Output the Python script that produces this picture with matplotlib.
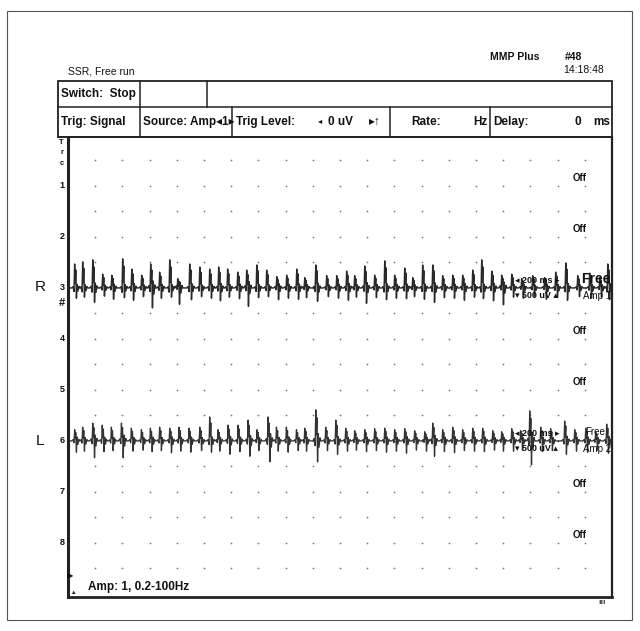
# Recreación de la pantalla del MMP Plus (SSR, Free run) con dos trazos EMG
import matplotlib
matplotlib.use("Agg")
import matplotlib.pyplot as plt
import matplotlib.transforms as mtransforms
from matplotlib.patches import Rectangle

plt.rcParams['font.family'] = ['Liberation Sans Narrow', 'Liberation Sans', 'DejaVu Sans']

# Escalas de la pantalla
ms_por_div = 200
uv_por_div = 500
canales = [1, 2, 3, 4, 5, 6, 7, 8]
canales_off = [1, 2, 4, 5, 7, 8]

# Canal 3 (R): tiempo de cada espiga [ms], subida y bajada [uV]
tiempos_r = [51, 110, 184, 257, 324, 404, 471, 544, 610, 676, 750, 809, 897, 971,
             1044, 1110, 1176, 1250, 1316, 1390, 1463, 1537, 1610, 1684,
             1743, 1824, 1904, 1978, 2051, 2110, 2184, 2257, 2331, 2404, 2478,
             2537, 2610, 2684, 2757, 2831, 2904, 2978, 3044, 3118, 3191,
             3265, 3338, 3419, 3507, 3588, 3662, 3750, 3838, 3912, 3971]
subida_r = [470, 510, 550, 270, 250, 570, 370, 250, 470, 310, 550, 180, 470, 410,
            370, 410, 370, 310, 350, 450, 350, 220, 250, 370,
            200, 450, 240, 240, 330, 240, 430, 250, 530, 250, 390, 200, 450, 450,
            240, 250, 250, 350, 550, 330, 250,
            270, 180, 240, 200, 310, 490, 240, 290, 200, 470]
bajada_r = [200, 180, 280, 160, 220, 190, 240, 170, 390, 200, 180, 320, 230, 170,
            200, 250, 180, 210, 360, 190, 170, 230, 200, 220,
            190, 260, 170, 200, 240, 180, 300, 190, 230, 200, 210, 170, 220, 280,
            190, 200, 240, 180, 210, 250, 330,
            180, 200, 160, 220, 190, 240, 170, 200, 180, 230]

# Canal 6 (L)
tiempos_l = [51, 110, 184, 254, 321, 395, 468, 542, 608, 676, 750, 818, 892, 971,
             1044, 1105, 1179, 1253, 1326, 1392, 1473, 1535, 1608, 1682,
             1743, 1824, 1897, 1971, 2044, 2110, 2184, 2257, 2331, 2404, 2478,
             2551, 2625, 2684, 2757, 2831, 2904, 2978, 3051, 3125, 3191,
             3265, 3331, 3397, 3478, 3551, 3654, 3728, 3809, 3882, 3963]
subida_l = [220, 270, 350, 310, 270, 350, 250, 220, 250, 270, 250, 270, 250, 270,
            470, 220, 310, 310, 410, 220, 470, 270, 270, 220,
            250, 610, 270, 410, 250, 200, 220, 240, 250, 220, 240, 200, 180, 350,
            220, 270, 220, 250, 250, 200, 180,
            240, 200, 590, 270, 240, 390, 220, 250, 180, 330]
bajada_l = [220, 200, 330, 210, 190, 330, 200, 180, 210, 190, 230, 200, 220, 190,
            220, 200, 260, 210, 300, 190, 410, 200, 220, 190,
            200, 410, 190, 260, 200, 180, 210, 190, 220, 200, 240, 180, 200, 300,
            210, 230, 190, 200, 210, 180, 200,
            200, 180, 470, 210, 190, 260, 200, 220, 180, 240]


# Función para armar el trazo a partir de las espigas leídas
# (espiga principal, segunda cresta, valle y un rebote corto)
def armar_trazo(tiempos, subidas, bajadas, base):
    xs = [0]
    ys = [base]
    for t, a, d in zip(tiempos, subidas, bajadas):
        a = a / uv_por_div
        d = d / uv_por_div
        xs += [t - 24, t - 14, t - 7, t - 2, t + 2, t + 6, t + 11, t + 16,
               t + 22, t + 29, t + 36]
        ys += [base, base + 0.12 * d, base - 0.15 * a, base + a, base + 0.2 * a,
               base + 0.75 * a, base - d, base + 0.35 * d, base - 0.3 * d,
               base + 0.15 * d, base]
    xs.append(4000)
    ys.append(base)
    return xs, ys


fig = plt.figure(figsize=(6.4, 6.31), dpi=100)

# Área de trazos: 20 divisiones en x, filas de puntos cada division en y
ax = fig.add_axes([68 / 640, (631 - 597) / 631, 544 / 640, 460 / 631])
ax.set_xlim(0, 20 * ms_por_div)
ax.set_ylim(-17.12, 0.92)
ax.set_xticks([])
ax.set_yticks([])
for lado, ancho in [('left', 2.2), ('bottom', 2.0), ('right', 1.6), ('top', 1.2)]:
    ax.spines[lado].set_linewidth(ancho)
    ax.spines[lado].set_color('#222222')

puntos_x = []
puntos_y = []
for k in range(1, 20):
    for j in range(0, 17):
        puntos_x.append(k * ms_por_div)
        puntos_y.append(-j)
ax.scatter(puntos_x, puntos_y, s=1.6, color='#7a7a7a', linewidths=0, zorder=1)

x_r, y_r = armar_trazo(tiempos_r, subida_r, bajada_r, -5)
x_l, y_l = armar_trazo(tiempos_l, subida_l, bajada_l, -11)
ax.plot(x_r, y_r, color='#2a2a2a', lw=1.05, zorder=2)
ax.plot(x_l, y_l, color='#333333', lw=0.95, zorder=2)

# Números de canal al costado izquierdo
mezcla = mtransforms.blended_transform_factory(ax.transAxes, ax.transData)
for n in canales:
    ax.text(-0.006, -(2 * n - 1), str(n), transform=mezcla, ha='right', va='center',
            fontsize=6.5, fontweight='bold', color='#111111', clip_on=False)
for i, letra in enumerate(['T', 'r', 'c']):
    ax.text(-0.008, 0.7 - 0.4 * i, letra, transform=mezcla, ha='right', va='center',
            fontsize=5.5, fontweight='bold', color='#111111', clip_on=False)
ax.text(-0.006, -5.6, '#', transform=mezcla, ha='right', va='center',
        fontsize=8, fontweight='bold', color='#111111', clip_on=False)

for n in canales_off:
    ax.text(3760, -(2 * n - 1) + 0.31, 'Off', ha='center', va='center',
            fontsize=7, fontweight='bold', color='#111111')

# Rótulos de escala de los canales activos
for base, amp, tam, peso in [(-5, 'Amp 1', 10, 'bold'), (-11, 'Amp 2', 7, 'normal')]:
    ax.text(3290, base + 0.3, '\u25c2 200 ms \u25b8', ha='left', va='center',
            fontsize=6.5, fontweight='bold', color='#111111', zorder=3)
    ax.text(3290, base - 0.3, '\u25be 500 uV \u25b4', ha='left', va='center',
            fontsize=6.5, fontweight='bold', color='#111111', zorder=3)
    ax.text(3880, base + 0.36, 'Free', ha='center', va='center',
            fontsize=tam, fontweight=peso, color='#111111', zorder=3)
    ax.text(3890, base - 0.3, amp, ha='center', va='center',
            fontsize=7, color='#111111', zorder=3)

# Capa superior en pixeles para marco, cabecera y textos
ax0 = fig.add_axes([0, 0, 1, 1])
ax0.set_xlim(0, 640)
ax0.set_ylim(631, 0)
ax0.axis('off')

ax0.add_patch(Rectangle((7, 11), 625, 609, fill=False, ec='#555555', lw=0.8))
ax0.add_patch(Rectangle((58, 81), 554, 56, fill=False, ec='#222222', lw=1.3))
ax0.plot([58, 612], [107, 107], color='#222222', lw=1.1)
for xv in [140, 207]:
    ax0.plot([xv, xv], [81, 107], color='#222222', lw=1.1)
for xv in [140, 232, 390, 490]:
    ax0.plot([xv, xv], [107, 137], color='#222222', lw=1.1)
ax0.plot([58, 68], [137, 137], color='#222222', lw=1.1)

negro = '#111111'
cab = dict(fontsize=8.5, fontweight='bold', color=negro, va='center')
ax0.text(68, 71, 'SSR, Free run', fontsize=7.5, color=negro, va='center')
ax0.text(490, 57, 'MMP Plus', fontsize=7.5, fontweight='bold', color=negro, va='center')
ax0.text(565, 57, '#48', fontsize=7.5, fontweight='bold', color=negro, va='center')
ax0.text(563, 70, '14:18:48', fontsize=7.5, color=negro, va='center')

ax0.text(61, 94, 'Switch:  Stop', **cab)
ax0.text(61, 122, 'Trig: Signal', **cab)
ax0.text(143, 122, 'Source: Amp\u25c21\u25b8', **cab)
ax0.text(236, 122, 'Trig Level:', **cab)
ax0.text(318, 122, '\u25c2', fontsize=6, color=negro, va='center')
ax0.text(328, 122, '0 uV', **cab)
ax0.text(369, 122, '\u25b8\u2191', **cab)
ax0.text(411, 122, 'Rate:', **cab)
ax0.text(487, 122, 'Hz', ha='right', **cab)
ax0.text(581, 122, '0', ha='right', **cab)
ax0.text(493, 122, 'Delay:', **cab)
ax0.text(610, 122, 'ms', ha='right', **cab)

ax0.text(40, 287, 'R', fontsize=11, color=negro, va='center', ha='center')
ax0.text(40, 441, 'L', fontsize=11, color=negro, va='center', ha='center')

ax0.text(67, 577, '\u25b6', fontsize=6, color=negro, va='center')
ax0.text(71, 593, '\u25b2', fontsize=4, color=negro, va='center')
ax0.text(88, 587, 'Amp: 1, 0.2-100Hz', **cab)
ax0.text(598, 602, '\u0131\u0131\u0131', fontsize=5, fontweight='bold', color='#444444',
         va='center', family=['DejaVu Sans'])

fig.savefig('out.png', dpi=100)
